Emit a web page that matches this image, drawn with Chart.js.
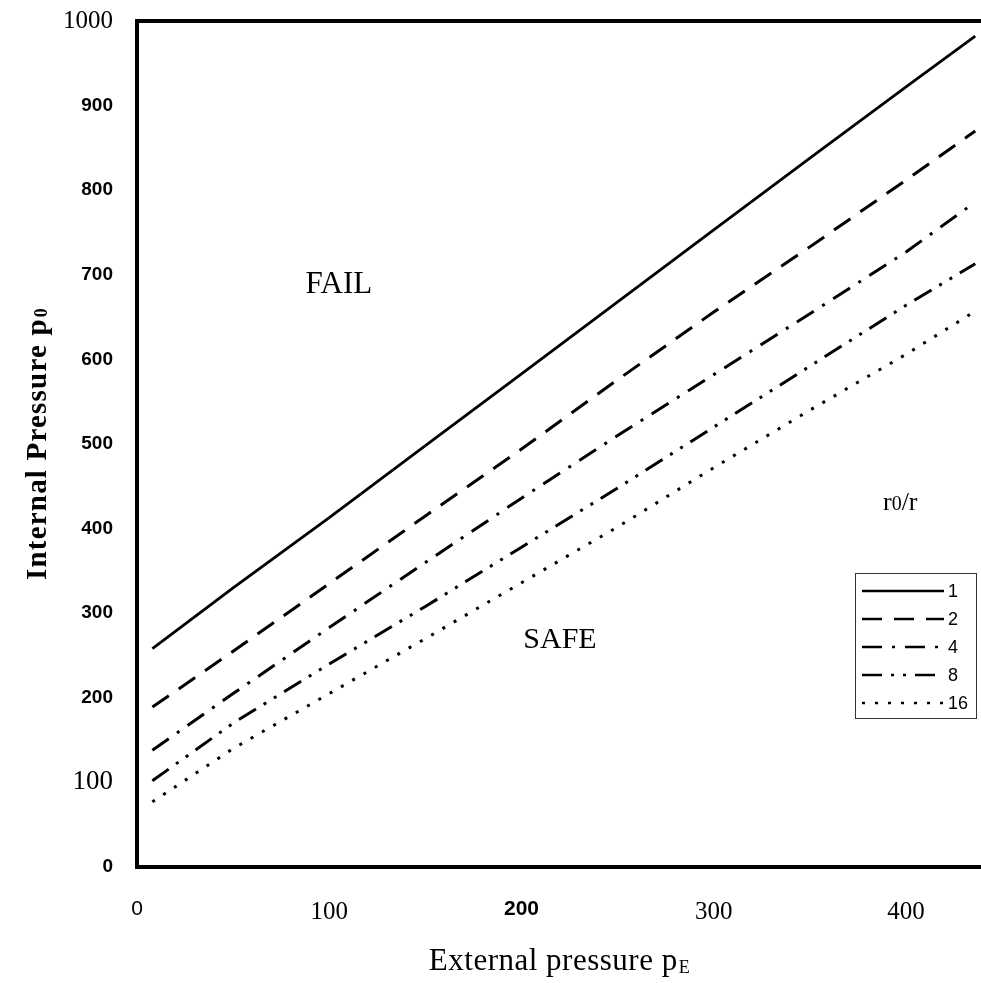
<!DOCTYPE html>
<html><head><meta charset="utf-8">
<script src="https://cdn.jsdelivr.net/npm/chart.js@4.4.0/dist/chart.umd.min.js"></script>
<style>html,body{margin:0;padding:0;background:#fff;}canvas{display:block;}</style>
</head><body>
<canvas id="c" width="981" height="983"></canvas>
<script>
// ---- data ----
const externalPressure = [8, 50, 100, 150, 200, 250, 300, 350, 400, 436];
const ratio1  = [258, 330, 413, 498, 583, 668, 753, 838, 922, 982];
const ratio2  = [189, 255, 335, 415, 494, 576, 656, 733, 812, 870];
const ratio4  = [138, 205, 283, 360, 436, 510, 582, 654, 727, 786];
const ratio8  = [102, 170, 240, 308, 378, 448, 520, 592, 664, 713];
const ratio16 = [77, 140, 205, 270, 336, 402, 472, 540, 606, 657];
const seriesLabels = ['1', '2', '4', '8', '16'];
const xTickValues = [0, 100, 200, 300, 400];
const yTickValues = [0, 100, 200, 300, 400, 500, 600, 700, 800, 900, 1000];

const seriesValues = [ratio1, ratio2, ratio4, ratio8, ratio16];
const dashes = [[], [20, 12], [20, 10, 3, 10], [20, 9, 3, 9, 3, 9], [3, 10]];

const SERIF = '"Liberation Serif", "Times New Roman", serif';
const SANS = '"Liberation Sans", Arial, sans-serif';
const yTickFont = v => v === 1000 ? {family: SERIF, size: 25, weight: 'normal'}
  : v === 100 ? {family: SERIF, size: 27, weight: 'normal'}
  : {family: SANS, size: 19, weight: 'bold'};
const xTickFont = v => v === 0 ? {family: SANS, size: 21, weight: 'normal'}
  : v === 200 ? {family: SANS, size: 21, weight: 'bold'}
  : {family: SERIF, size: 25, weight: 'normal'};

const notes = [
  {text: 'FAIL', x: 105, y: 688, size: 31},
  {text: 'SAFE', x: 220, y: 268, size: 30}
];

const zeroPad = s => { s.paddingTop = 0; s.paddingBottom = 0; s.paddingLeft = 0; s.paddingRight = 0; };

const decor = {
  id: 'decor',
  afterDraw(chart) {
    const {ctx, chartArea: a, scales: {x, y}} = chart;
    ctx.save();
    ctx.strokeStyle = '#000'; ctx.lineWidth = 4; ctx.setLineDash([]);
    ctx.beginPath(); ctx.moveTo(a.left - 2, a.top); ctx.lineTo(a.right, a.top); ctx.stroke();
    ctx.fillStyle = '#000'; ctx.textAlign = 'center'; ctx.textBaseline = 'middle';
    notes.forEach(n => {
      ctx.font = `${n.size}px ${SERIF}`;
      ctx.fillText(n.text, x.getPixelForValue(n.x), y.getPixelForValue(n.y));
    });
    // r0/r label above the legend
    const rx = x.getPixelForValue(397), ry = y.getPixelForValue(432);
    ctx.textAlign = 'left'; ctx.textBaseline = 'alphabetic';
    ctx.font = `26px ${SERIF}`;
    const w1 = ctx.measureText('r').width;
    ctx.font = `20px ${SERIF}`;
    const w2 = ctx.measureText('0').width;
    ctx.font = `26px ${SERIF}`;
    const w3 = ctx.measureText('/r').width;
    let sx = rx - (w1 + w2 + w3) / 2;
    ctx.fillText('r', sx, ry + 8); sx += w1;
    ctx.font = `20px ${SERIF}`; ctx.fillText('0', sx, ry + 8); sx += w2;
    ctx.font = `26px ${SERIF}`; ctx.fillText('/r', sx, ry + 8);

    // x axis title
    ctx.letterSpacing = '0.5px';
    ctx.font = `31px ${SERIF}`;
    const t1 = 'External pressure p';
    const tw = ctx.measureText(t1).width;
    ctx.font = `18px ${SERIF}`;
    const ew = ctx.measureText('E').width;
    let tx = (a.left + a.right) / 2 - (tw + ew) / 2;
    const ty = 970;
    ctx.font = `31px ${SERIF}`; ctx.fillText(t1, tx, ty);
    ctx.font = `18px ${SERIF}`; ctx.fillText('E', tx + tw + 1, ty + 3);
    // y axis title
    ctx.save();
    ctx.translate(46, (a.top + a.bottom) / 2);
    ctx.rotate(-Math.PI / 2);
    ctx.letterSpacing = '1.2px';
    ctx.font = `bold 29px ${SERIF}`;
    const t2 = 'Internal Pressure p';
    const tw2 = ctx.measureText(t2).width;
    ctx.font = `bold 18px ${SERIF}`;
    const zw = ctx.measureText('0').width;
    const ox = -(tw2 + zw) / 2;
    ctx.font = `bold 29px ${SERIF}`; ctx.fillText(t2, ox, 0);
    ctx.font = `bold 18px ${SERIF}`; ctx.fillText('0', ox + tw2 + 1, 1);
    ctx.restore();
    ctx.letterSpacing = '0px';

    // legend
    const lx = 855, ly = 573, lw = 121, lh = 145;
    ctx.fillStyle = '#fff'; ctx.fillRect(lx, ly, lw, lh);
    ctx.strokeStyle = '#333'; ctx.lineWidth = 1; ctx.setLineDash([]);
    ctx.strokeRect(lx + 0.5, ly + 0.5, lw, lh);
    chart.data.datasets.forEach((ds, i) => {
      const yy = ly + 18 + i * 28;
      ctx.strokeStyle = '#000'; ctx.lineWidth = 2.5;
      ctx.setLineDash(ds.borderDash || []);
      ctx.beginPath(); ctx.moveTo(lx + 7, yy); ctx.lineTo(lx + 89, yy); ctx.stroke();
      ctx.setLineDash([]);
      ctx.fillStyle = '#000'; ctx.font = `18px ${SANS}`; ctx.textAlign = 'left'; ctx.textBaseline = 'middle';
      ctx.fillText(ds.label, lx + 93, yy + 1);
    });
    ctx.restore();
  }
};

new Chart(document.getElementById('c'), {
  type: 'line',
  data: {
    datasets: seriesLabels.map((lab, i) => ({
      label: lab,
      data: externalPressure.map((xv, j) => ({x: xv, y: seriesValues[i][j]})),
      borderColor: '#000',
      borderWidth: i === 0 ? 2.8 : 3,
      borderDash: dashes[i],
      pointRadius: 0,
      tension: 0,
      fill: false
    }))
  },
  options: {
    responsive: false,
    animation: false,
    layout: {padding: {top: 21, right: 0, left: 0, bottom: 0}},
    plugins: {legend: {display: false}, tooltip: {enabled: false}},
    scales: {
      x: {
        type: 'linear', min: 0, max: 439,
        afterBuildTicks: s => { s.ticks = xTickValues.map(v => ({value: v})); },
        afterFit: s => { s.height = 116; zeroPad(s); },
        grid: {display: false, drawTicks: false},
        border: {display: true, width: 4, color: '#000'},
        ticks: {padding: 30, color: '#000', maxRotation: 0, autoSkip: false,
                callback: v => String(v),
                font: ctx => xTickFont(ctx && ctx.tick ? ctx.tick.value : 100)}
      },
      y: {
        type: 'linear', min: 0, max: 1000,
        afterBuildTicks: s => { s.ticks = yTickValues.map(v => ({value: v})); },
        afterFit: s => { s.width = 137; zeroPad(s); },
        grid: {display: false, drawTicks: false},
        border: {display: true, width: 4, color: '#000'},
        ticks: {padding: 24, color: '#000', autoSkip: false,
                callback: v => String(v),
                font: ctx => yTickFont(ctx && ctx.tick ? ctx.tick.value : 500)}
      }
    }
  },
  plugins: [decor]
});
</script>
</body></html>
